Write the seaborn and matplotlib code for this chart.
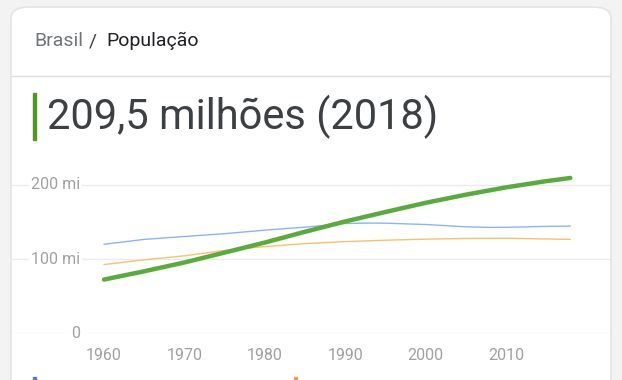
import matplotlib
matplotlib.use("Agg")
import matplotlib.pyplot as plt
from matplotlib.patches import FancyBboxPatch, Rectangle
import pandas as pd
import seaborn as sns

# population in millions
years_br = [1960, 1965, 1970, 1975, 1980, 1985, 1990, 1995, 2000, 2005, 2010, 2015, 2018]
brasil = [72.2, 83.4, 95.3, 108.7, 122.2, 136.8, 150.7, 163.5, 175.9, 186.9, 196.8, 205.2, 209.5]

years_ru = [1960, 1965, 1970, 1975, 1980, 1985, 1990, 1993, 1995, 2000, 2005, 2008, 2010, 2015, 2018]
russia = [119.9, 126.5, 130.4, 134.2, 139.0, 143.0, 148.0, 148.5, 148.4, 146.6, 143.5, 142.7, 142.8, 144.1, 144.5]

years_jp = [1960, 1965, 1970, 1975, 1980, 1985, 1990, 1995, 2000, 2005, 2010, 2015, 2018]
japan = [92.5, 98.9, 104.3, 111.6, 116.8, 120.8, 123.5, 125.4, 126.8, 127.8, 128.1, 127.1, 126.5]

yticks = [0, 100, 200]
ytick_labels = ["0", "100 mi", "200 mi"]
xticks = [1960, 1970, 1980, 1990, 2000, 2010]

df = pd.concat([
    pd.DataFrame({"ano": years_ru, "pop": russia, "pais": "Rússia"}),
    pd.DataFrame({"ano": years_jp, "pop": japan, "pais": "Japão"}),
])
df_br = pd.DataFrame({"ano": years_br, "pop": brasil, "pais": "Brasil"})

sns.set_style("white")
plt.rcParams["font.family"] = ["Roboto", "DejaVu Sans"]

W, H = 622, 380
fig = plt.figure(figsize=(W / 100, H / 100), dpi=100)
fig.patch.set_facecolor("#f3f3f3")

# card
card = FancyBboxPatch((11 / W, -0.2), 600 / W, (H - 7) / H + 0.2,
                      boxstyle="round,pad=0,rounding_size=0.03",
                      transform=fig.transFigure, facecolor="white",
                      edgecolor="#e4e4e4", linewidth=1.2, zorder=-5)
fig.patches.append(card)

# header
fig.text(34 / W, 1 - 41 / H, "Brasil", color="#70757a", fontsize=14, va="center")
fig.text(89 / W, 1 - 41 / H, "/", color="#3c4043", fontsize=14, va="center")
fig.text(106 / W, 1 - 41 / H, "População", color="#202124", fontsize=14, va="center")
fig.add_artist(plt.Line2D([12 / W, 610 / W], [1 - 76 / H, 1 - 76 / H],
                          color="#dadce0", lw=1, transform=fig.transFigure))
fig.patches.append(Rectangle((33 / W, 1 - 140 / H), 3 / W, 47 / H,
                             transform=fig.transFigure, color="#4e9a1f", zorder=3))
fig.text(47 / W, 1 - 117 / H, "209,5 milhões (2018)", color="#3c4043",
         fontsize=30, va="center")

# chart area in pixels
x0, x1 = 12, 610
y_top, y_bot = 160, 333
px_per_year = (506 - 104) / 50
px_per_unit = (333 - 185) / 200
ax = fig.add_axes([x0 / W, 1 - y_bot / H, (x1 - x0) / W, (y_bot - y_top) / H])
ax.set_zorder(2)
ax.set_xlim(1960 - (104 - x0) / px_per_year, 1960 + (x1 - 104) / px_per_year)
ax.set_ylim(0, (y_bot - y_top) / px_per_unit)
ax.patch.set_alpha(0)

sns.lineplot(data=df, x="ano", y="pop", hue="pais", ax=ax, legend=False,
             palette={"Rússia": "#8ab4f8", "Japão": "#f6c26b"}, linewidth=1.0)
sns.lineplot(data=df_br, x="ano", y="pop", ax=ax, color="#58ac3b",
             linewidth=3.2, legend=False, solid_capstyle="round")

for v in yticks:
    ax.axhline(v, color="#ebebeb", lw=1, zorder=0)
for s in ax.spines.values():
    s.set_visible(False)
ax.set_yticks([])
ax.set_xticks(xticks)
ax.set_xticklabels([str(x) for x in xticks], color="#a0a0a0", fontsize=11.5)
ax.tick_params(axis="x", length=6, color="#e0e0e0", pad=5, width=1)
ax.set_xlabel("")
ax.set_ylabel("")
for v, lab in zip(yticks, ytick_labels):
    ax.text(1960 - (104 - 80) / px_per_year, v, lab, ha="right", va="center",
            color="#a0a0a0", fontsize=11.5,
            bbox=dict(facecolor="white", edgecolor="none", pad=1.5))

# cut-off legend markers at bottom
fig.patches.append(Rectangle((33 / W, 0), 3 / W, 3 / H, transform=fig.transFigure,
                             color="#4a7fd8", zorder=3))
fig.patches.append(Rectangle((294 / W, 0), 3 / W, 3 / H, transform=fig.transFigure,
                             color="#e8a33c", zorder=3))

fig.savefig("out.png", dpi=100, facecolor=fig.get_facecolor())
